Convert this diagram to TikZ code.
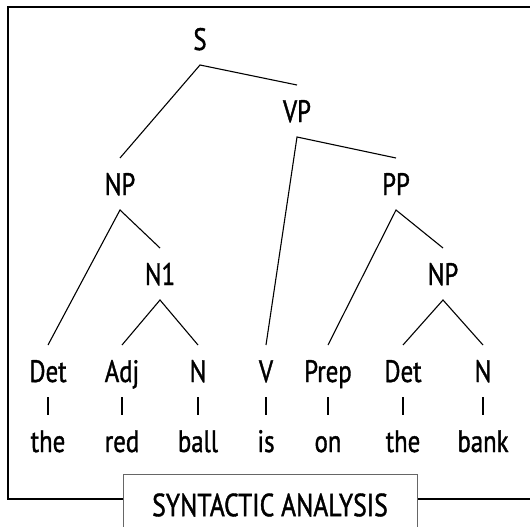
\documentclass[tikz,border=0pt]{standalone}
\usepackage{fontspec}
\setmainfont[FakeStretch=0.8, FakeBold=1.2]{PT Sans}
\usepackage{tikz}

\begin{document}
\begin{tikzpicture}[x=1pt, y=-1pt,
        lbl/.style={inner sep=0pt, outer ysep=15pt, text height=22pt, text depth=0pt, anchor=base, font=\fontsize{31}{36}\selectfont},
        edge/.style={line width=1.1pt},
        frame/.style={line width=1.6pt}]
    \useasboundingbox (0,0) rectangle (530,527);
    \clip (0,0) rectangle (530,527);
    \draw[frame] (8,7) rectangle (545,499);
    \node[draw=black!60, fill=white, line width=1pt, minimum width=294pt, minimum height=62pt,
        font=\fontsize{32}{36}\selectfont] (title) at (270,505) {SYNTACTIC ANALYSIS};
    % phrase nodes
    \node[lbl] (s) at (200,50) {S};
    \node[lbl] (vp) at (297,122) {VP};
    \node[lbl] (np) at (120,195) {NP};
    \node[lbl] (pp) at (396,195) {PP};
    \node[lbl] (n1) at (160,285) {N1};
    \node[lbl] (np2) at (443,285) {NP};
    % categories and words
    \foreach \xp/\tag/\word [count=\i] in {48/Det/the, 122/Adj/red, 198/N/ball, 266/V/is,
            328/Prep/on, 403/Det/the, 483/N/bank}{
        \node[lbl] (p\i) at (\xp,382) {\tag};
        \node[lbl] (w\i) at (\xp,452) {\word};
        \draw[edge] (p\i.south) -- (w\i.north);
    }
    \draw[edge] (np.north) -- (s.south) -- (vp.north);
    \draw[edge] (p1.north) -- (np.south) -- (n1.north);
    \draw[edge] (p2.north) -- (n1.south) -- (p3.north);
    \draw[edge] (p4.north) -- (vp.south) -- (pp.north);
    \draw[edge] (p5.north) -- (pp.south) -- (np2.north);
    \draw[edge] (p6.north) -- (np2.south) -- (p7.north);
\end{tikzpicture}
\end{document}
